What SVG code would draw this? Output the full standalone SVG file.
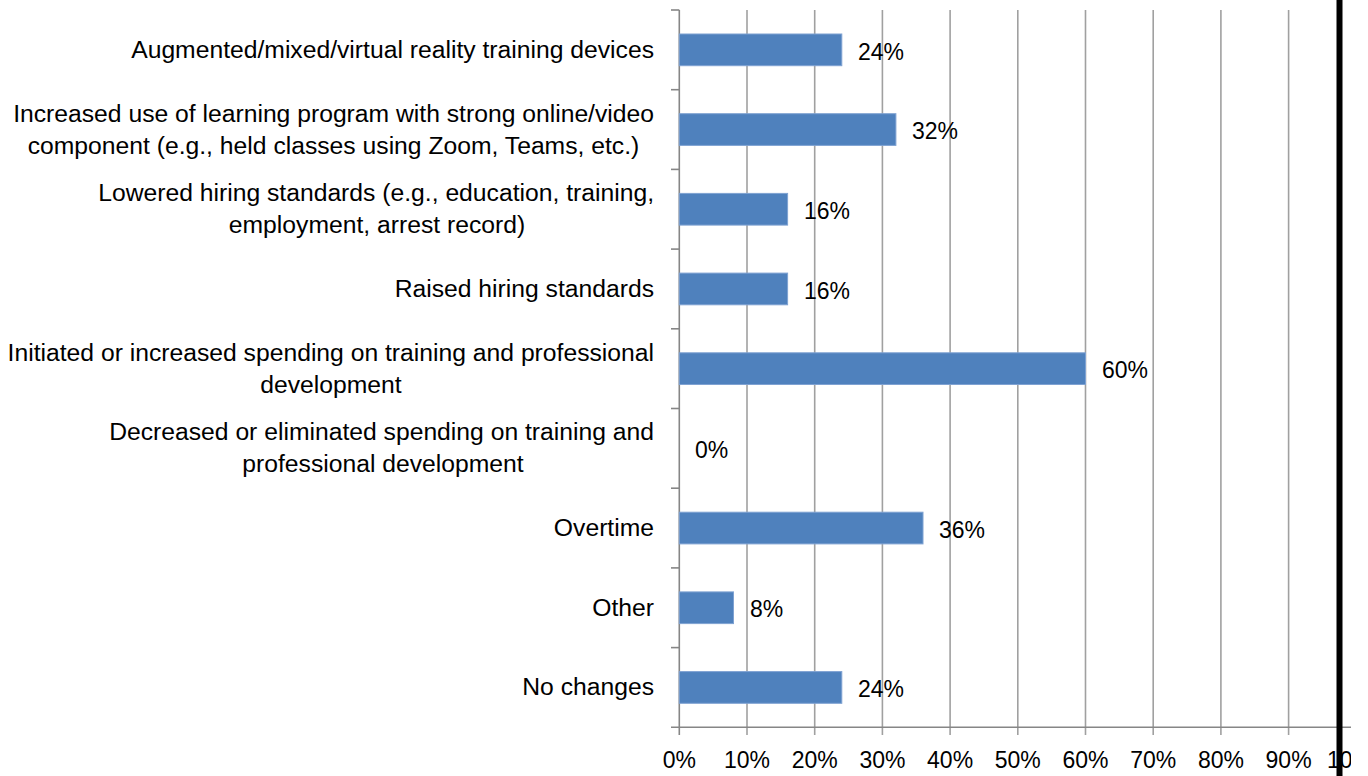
<svg xmlns="http://www.w3.org/2000/svg" width="1368" height="776" viewBox="0 0 1368 776">
<defs>
<style>
.cat{font-family:"Liberation Sans",Arial,sans-serif;font-size:24.7px;fill:#000;text-anchor:end}
.mid{text-anchor:middle}
.val{font-family:"Liberation Sans",Arial,sans-serif;font-size:23px;fill:#000}
.ax{font-family:"Liberation Sans",Arial,sans-serif;font-size:23px;fill:#000;text-anchor:middle}
.grid{stroke:#A0A0A0;stroke-width:1.6}
.axis{stroke:#868686;stroke-width:1.6}
.bar{fill:#4F81BD;stroke:#7FA2D2;stroke-width:1}
</style>
<clipPath id="clip"><rect x="0" y="0" width="1351" height="776"/></clipPath>
</defs>
<rect x="0" y="0" width="1368" height="776" fill="#fff"/>
<g clip-path="url(#clip)">
<g id="gridlines">
<line class="grid" x1="747" y1="10" x2="747" y2="735"/>
<line class="grid" x1="814.7" y1="10" x2="814.7" y2="735"/>
<line class="grid" x1="882.4" y1="10" x2="882.4" y2="735"/>
<line class="grid" x1="950.1" y1="10" x2="950.1" y2="735"/>
<line class="grid" x1="1017.8" y1="10" x2="1017.8" y2="735"/>
<line class="grid" x1="1085.5" y1="10" x2="1085.5" y2="735"/>
<line class="grid" x1="1153.2" y1="10" x2="1153.2" y2="735"/>
<line class="grid" x1="1220.9" y1="10" x2="1220.9" y2="735"/>
<line class="grid" x1="1288.6" y1="10" x2="1288.6" y2="735"/>
<line class="grid" x1="1356.3" y1="10" x2="1356.3" y2="735"/>
</g>
<g id="axes">
<line class="axis" x1="679.3" y1="10" x2="679.3" y2="735"/>
<line class="axis" x1="671" y1="727.3" x2="1360" y2="727.3"/>
<line class="axis" x1="671" y1="10" x2="679.3" y2="10"/>
<line class="axis" x1="671" y1="89.7" x2="679.3" y2="89.7"/>
<line class="axis" x1="671" y1="169.4" x2="679.3" y2="169.4"/>
<line class="axis" x1="671" y1="249.1" x2="679.3" y2="249.1"/>
<line class="axis" x1="671" y1="328.8" x2="679.3" y2="328.8"/>
<line class="axis" x1="671" y1="408.5" x2="679.3" y2="408.5"/>
<line class="axis" x1="671" y1="488.2" x2="679.3" y2="488.2"/>
<line class="axis" x1="671" y1="567.9" x2="679.3" y2="567.9"/>
<line class="axis" x1="671" y1="647.6" x2="679.3" y2="647.6"/>
</g>
<g id="bars">
<rect class="bar" x="679.3" y="34" width="162.5" height="31.7"/>
<rect class="bar" x="679.3" y="113.7" width="216.6" height="31.7"/>
<rect class="bar" x="679.3" y="193.4" width="108.3" height="31.7"/>
<rect class="bar" x="679.3" y="273.1" width="108.3" height="31.7"/>
<rect class="bar" x="679.3" y="352.8" width="406.2" height="31.7"/>
<rect class="bar" x="679.3" y="512.2" width="243.7" height="31.7"/>
<rect class="bar" x="679.3" y="591.9" width="54.2" height="31.7"/>
<rect class="bar" x="679.3" y="671.6" width="162.5" height="31.7"/>
</g>
<g id="value-labels">
<text class="val" x="858" y="59.5">24%</text>
<text class="val" x="912" y="139.2">32%</text>
<text class="val" x="804" y="218.9">16%</text>
<text class="val" x="804" y="298.6">16%</text>
<text class="val" x="1102" y="378.3">60%</text>
<text class="val" x="695" y="458">0%</text>
<text class="val" x="939" y="537.7">36%</text>
<text class="val" x="750" y="617.4">8%</text>
<text class="val" x="858" y="697.1">24%</text>
</g>
<g id="category-labels">
<text class="cat" x="654" y="58">Augmented/mixed/virtual reality training devices</text>
<text class="cat" x="654" y="121.5">Increased use of learning program with strong online/video</text>
<text class="cat mid" x="333.5" y="153.5">component (e.g., held classes using Zoom, Teams, etc.)</text>
<text class="cat" x="654" y="201.2">Lowered hiring standards (e.g., education, training,</text>
<text class="cat mid" x="377" y="233.2">employment, arrest record)</text>
<text class="cat" x="654" y="297">Raised hiring standards</text>
<text class="cat" x="654" y="360.6">Initiated or increased spending on training and professional</text>
<text class="cat mid" x="331" y="392.6">development</text>
<text class="cat" x="654" y="440.3">Decreased or eliminated spending on training and</text>
<text class="cat mid" x="383" y="472.3">professional development</text>
<text class="cat" x="654" y="536">Overtime</text>
<text class="cat" x="654" y="615.7">Other</text>
<text class="cat" x="654" y="695.4">No changes</text>
</g>
<g id="x-axis-labels">
<text class="ax" x="679.3" y="768">0%</text>
<text class="ax" x="747" y="768">10%</text>
<text class="ax" x="814.7" y="768">20%</text>
<text class="ax" x="882.4" y="768">30%</text>
<text class="ax" x="950.1" y="768">40%</text>
<text class="ax" x="1017.8" y="768">50%</text>
<text class="ax" x="1085.5" y="768">60%</text>
<text class="ax" x="1153.2" y="768">70%</text>
<text class="ax" x="1220.9" y="768">80%</text>
<text class="ax" x="1288.6" y="768">90%</text>
<text class="ax" x="1356.3" y="768">100%</text>
</g>
</g>
<rect id="edge-bar" x="1336.5" y="0" width="6" height="776" fill="#000"/>
</svg>
